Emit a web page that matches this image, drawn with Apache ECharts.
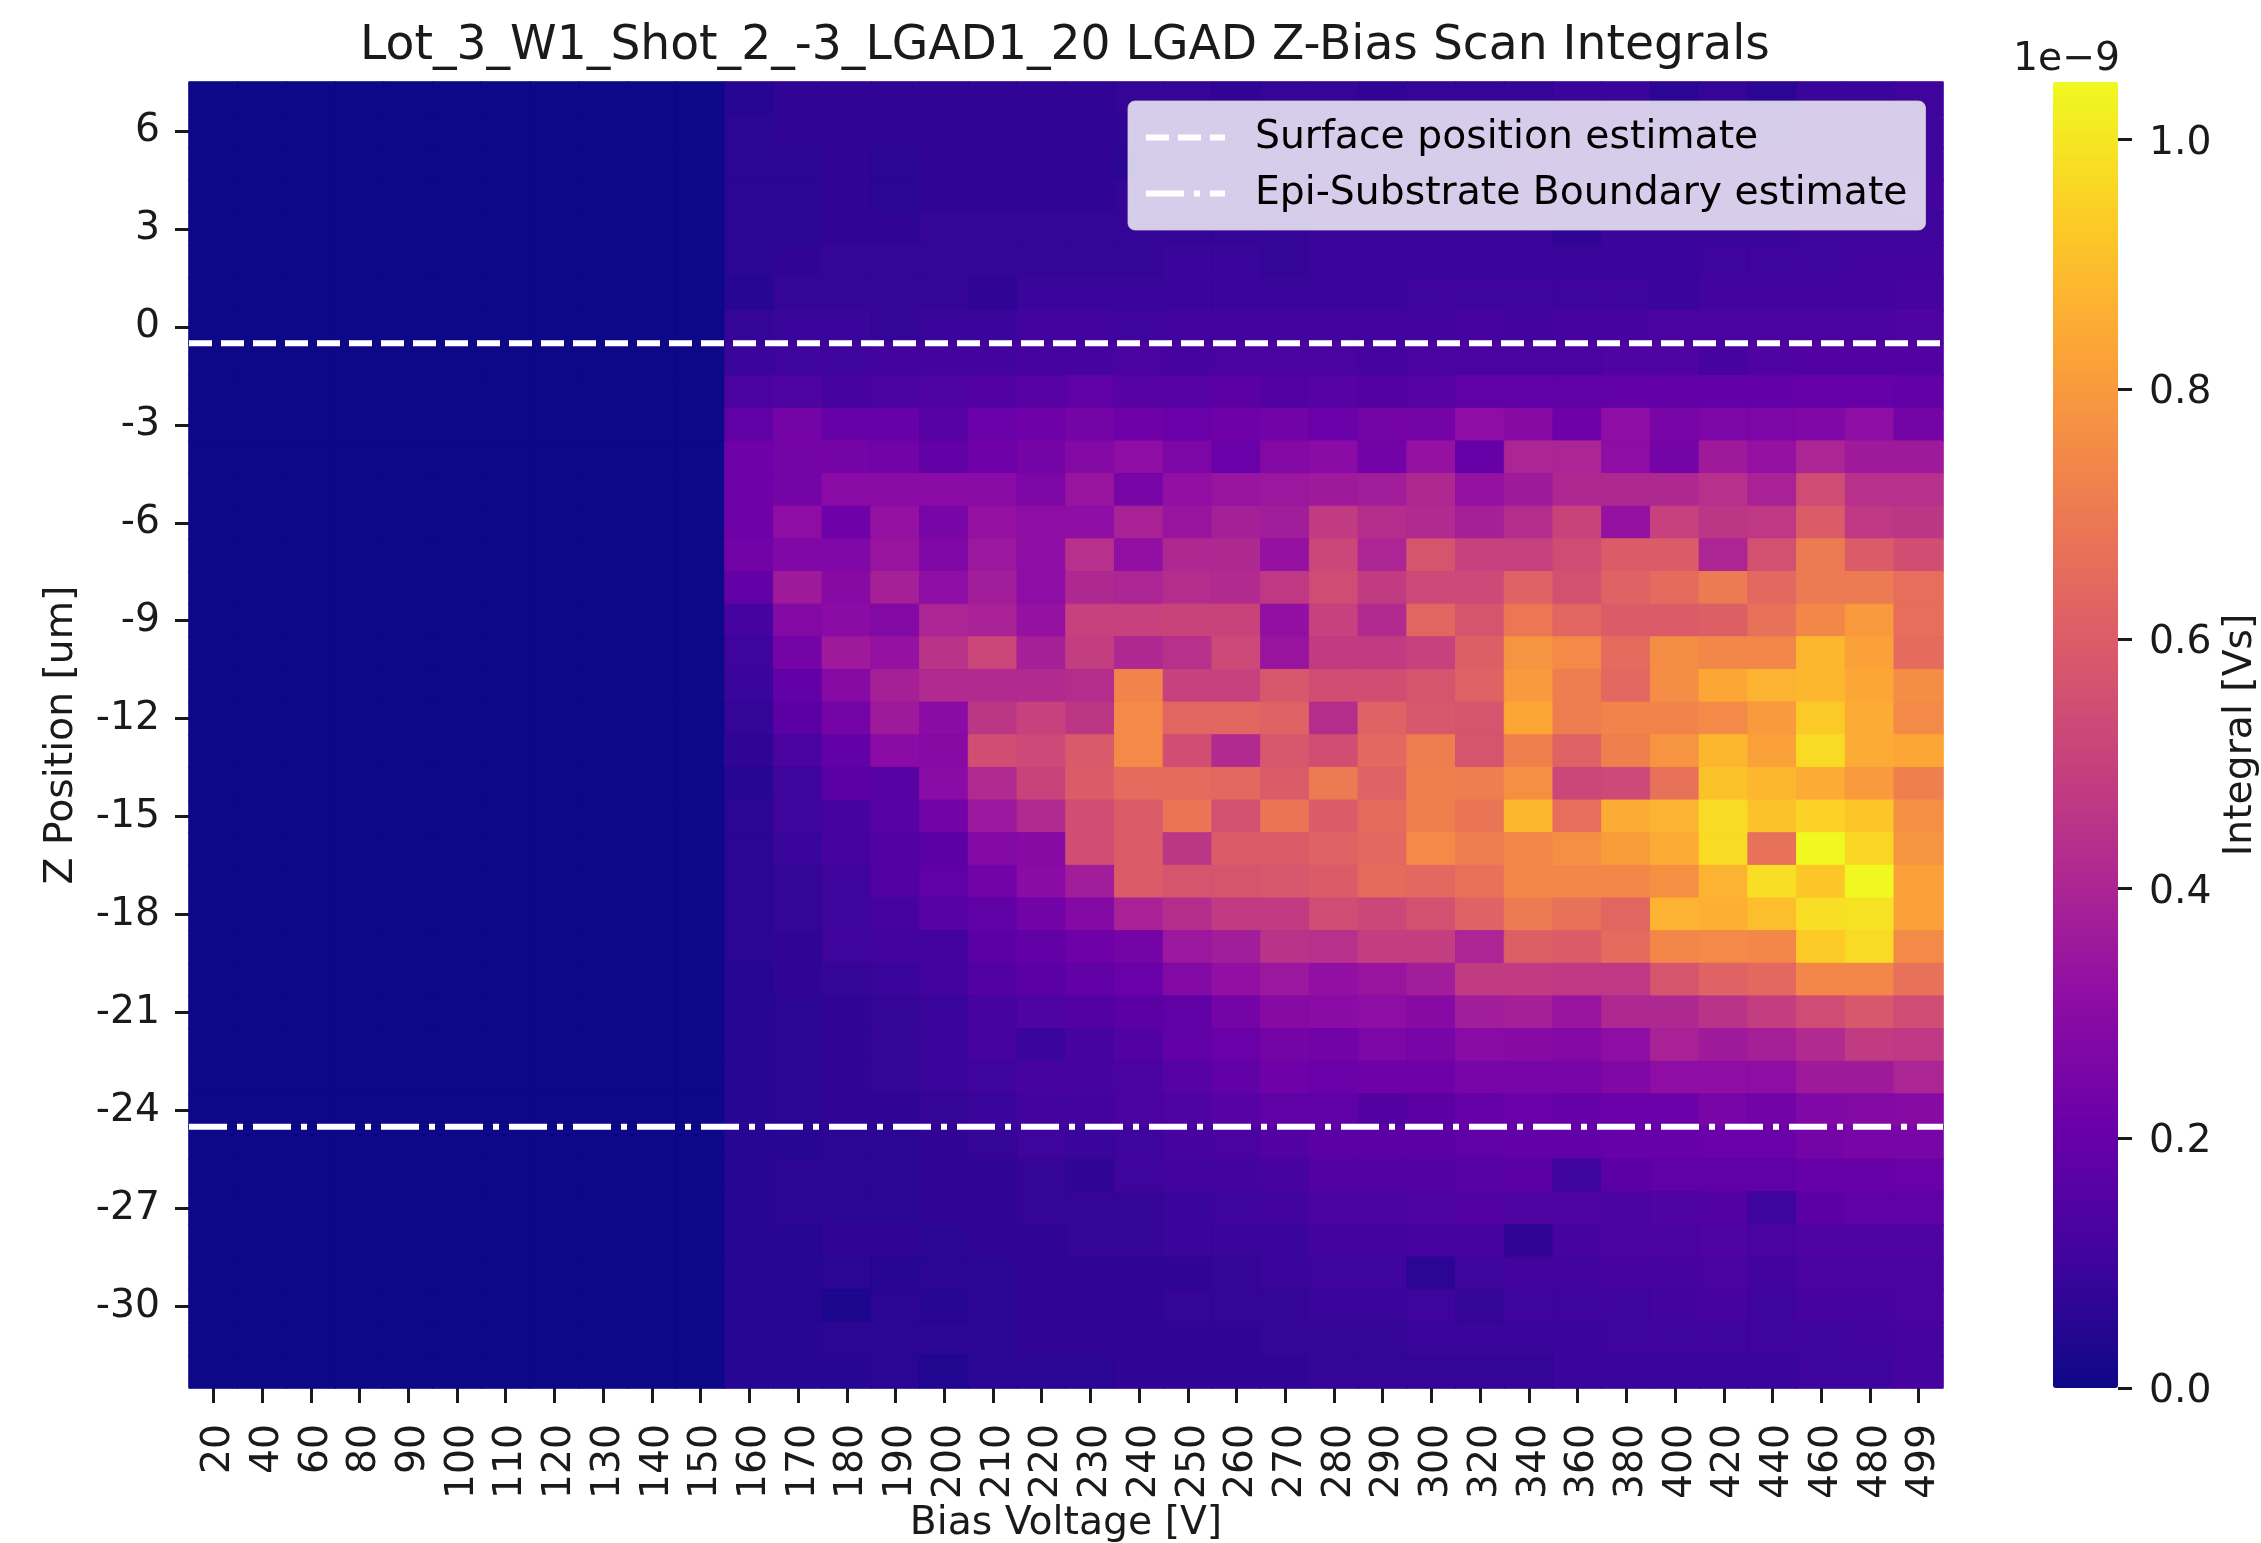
<!DOCTYPE html>
<html>
<head>
<meta charset="utf-8">
<style>html,body{margin:0;padding:0;background:#fff}#c{width:2261px;height:1543px}</style>
<script src="https://cdn.jsdelivr.net/npm/echarts@6/dist/echarts.min.js"></script>
</head>
<body>
<div id="c"></div>
<script>
const biasVoltages = [20,40,60,80,90,100,110,120,130,140,150,160,170,180,190,200,210,220,230,240,250,260,270,280,290,300,320,340,360,380,400,420,440,460,480,499];
const zPositions = [7,6,5,4,3,2,1,0,-1,-2,-3,-4,-5,-6,-7,-8,-9,-10,-11,-12,-13,-14,-15,-16,-17,-18,-19,-20,-21,-22,-23,-24,-25,-26,-27,-28,-29,-30,-31,-32];
const zTickEvery = 3;
const colorbarTicks = [0,0.2,0.4,0.6,0.8,1.0];
const colorMax = 1.046;
const plasma = ['#0d0887','#41049d','#6a00a8','#8f0da4','#b12a90','#cc4778','#e16462','#f1844b','#fca636','#fcce25','#f0f921'];
const surfaceLine = [[0,-0.5],[1,-0.5]];
const epiLine = [[0,-24.5],[1,-24.5]];
// Integral in units of 1e-9 Vs; one row per Z position, one column per bias voltage
const integrals = [
[0,0,0,0,0,0,0,0,0,0,0,.05,.07,.07,.07,.07,.07,.07,.07,.08,.08,.07,.08,.08,.07,.08,.08,.08,.09,.09,.06,.08,.06,.09,.09,.10],
[0,0,0,0,0,0,0,0,0,0,0,.06,.07,.07,.07,.07,.07,.07,.07,.07,.08,.08,.08,.08,.08,.08,.09,.08,.09,.09,.08,.09,.08,.09,.09,.10],
[0,0,0,0,0,0,0,0,0,0,0,.06,.06,.07,.06,.07,.07,.07,.07,.06,.08,.08,.08,.08,.08,.08,.08,.09,.09,.08,.08,.09,.09,.09,.09,.10],
[0,0,0,0,0,0,0,0,0,0,0,.06,.06,.07,.06,.07,.07,.07,.07,.08,.08,.08,.08,.09,.09,.08,.09,.09,.09,.09,.09,.09,.09,.09,.09,.11],
[0,0,0,0,0,0,0,0,0,0,0,.06,.06,.07,.07,.08,.08,.08,.08,.08,.08,.08,.08,.09,.09,.09,.09,.09,.07,.09,.09,.09,.09,.10,.10,.10],
[0,0,0,0,0,0,0,0,0,0,0,.06,.07,.08,.08,.08,.08,.08,.08,.08,.09,.09,.08,.09,.09,.09,.09,.09,.09,.09,.09,.10,.10,.10,.11,.11],
[0,0,0,0,0,0,0,0,0,0,0,.05,.08,.08,.08,.08,.07,.09,.09,.09,.09,.09,.09,.09,.09,.10,.10,.10,.10,.10,.09,.11,.11,.11,.11,.12],
[0,0,0,0,0,0,0,0,0,0,0,.08,.09,.09,.08,.09,.09,.11,.11,.10,.11,.11,.11,.11,.11,.11,.12,.11,.12,.12,.13,.13,.13,.13,.13,.14],
[0,0,0,0,0,0,0,0,0,0,0,.09,.10,.10,.11,.11,.11,.12,.12,.13,.12,.13,.13,.13,.12,.13,.13,.13,.13,.14,.14,.12,.14,.15,.15,.15],
[0,0,0,0,0,0,0,0,0,0,0,.13,.14,.12,.13,.14,.15,.16,.18,.16,.16,.17,.15,.16,.15,.16,.18,.18,.18,.19,.19,.19,.19,.20,.20,.19],
[0,0,0,0,0,0,0,0,0,0,0,.18,.24,.20,.20,.16,.21,.22,.24,.22,.21,.22,.23,.21,.24,.24,.31,.29,.22,.31,.25,.26,.26,.27,.31,.24],
[0,0,0,0,0,0,0,0,0,0,0,.22,.24,.24,.23,.19,.22,.24,.28,.31,.26,.21,.28,.30,.23,.33,.20,.40,.40,.31,.24,.36,.33,.40,.36,.36],
[0,0,0,0,0,0,0,0,0,0,0,.22,.24,.30,.30,.30,.30,.26,.34,.25,.32,.34,.35,.36,.37,.41,.33,.36,.41,.41,.41,.44,.39,.54,.44,.44],
[0,0,0,0,0,0,0,0,0,0,0,.22,.31,.22,.33,.25,.33,.31,.31,.39,.34,.38,.37,.48,.43,.42,.38,.43,.51,.33,.50,.46,.47,.60,.47,.46],
[0,0,0,0,0,0,0,0,0,0,0,.23,.27,.27,.34,.27,.35,.31,.44,.32,.41,.41,.33,.52,.40,.57,.50,.50,.54,.60,.60,.40,.56,.70,.60,.55],
[0,0,0,0,0,0,0,0,0,0,0,.19,.36,.29,.38,.31,.37,.31,.41,.40,.43,.42,.47,.54,.48,.53,.53,.62,.56,.62,.65,.70,.64,.70,.70,.66],
[0,0,0,0,0,0,0,0,0,0,0,.12,.28,.30,.28,.40,.39,.33,.50,.50,.51,.51,.32,.50,.42,.63,.57,.69,.63,.60,.60,.61,.67,.74,.80,.66],
[0,0,0,0,0,0,0,0,0,0,0,.10,.24,.36,.33,.45,.52,.38,.49,.41,.44,.53,.34,.48,.48,.50,.61,.78,.75,.65,.76,.74,.74,.88,.82,.65],
[0,0,0,0,0,0,0,0,0,0,0,.09,.19,.29,.38,.42,.42,.42,.43,.73,.50,.50,.58,.55,.55,.57,.62,.80,.71,.64,.76,.84,.87,.88,.84,.76],
[0,0,0,0,0,0,0,0,0,0,0,.08,.17,.24,.36,.30,.46,.50,.46,.75,.63,.63,.62,.43,.62,.58,.57,.84,.71,.73,.73,.75,.80,.93,.85,.75],
[0,0,0,0,0,0,0,0,0,0,0,.07,.13,.19,.30,.29,.55,.53,.59,.75,.55,.42,.58,.55,.64,.71,.57,.72,.62,.72,.78,.88,.82,.97,.85,.84],
[0,0,0,0,0,0,0,0,0,0,0,.05,.10,.17,.16,.30,.42,.51,.60,.65,.65,.64,.60,.70,.62,.72,.71,.77,.52,.53,.67,.91,.88,.85,.80,.72],
[0,0,0,0,0,0,0,0,0,0,0,.06,.10,.12,.16,.23,.35,.42,.55,.60,.68,.56,.68,.60,.65,.72,.68,.88,.66,.85,.87,.97,.91,.95,.92,.77],
[0,0,0,0,0,0,0,0,0,0,0,.06,.09,.12,.15,.17,.28,.29,.55,.60,.46,.60,.60,.62,.64,.75,.71,.74,.77,.81,.85,.97,.67,1.04,.96,.78],
[0,0,0,0,0,0,0,0,0,0,0,.06,.08,.10,.15,.18,.23,.30,.37,.60,.57,.57,.58,.60,.65,.64,.67,.74,.74,.74,.77,.87,.98,.92,1.04,.82],
[0,0,0,0,0,0,0,0,0,0,0,.06,.08,.10,.12,.16,.18,.23,.28,.39,.43,.48,.48,.54,.52,.56,.62,.70,.67,.63,.87,.86,.90,.98,.99,.82],
[0,0,0,0,0,0,0,0,0,0,0,.06,.07,.10,.11,.11,.17,.19,.22,.24,.35,.37,.45,.44,.49,.49,.40,.61,.60,.65,.74,.75,.74,.93,.97,.75],
[0,0,0,0,0,0,0,0,0,0,0,.05,.07,.08,.09,.11,.15,.17,.19,.21,.28,.32,.35,.32,.34,.37,.48,.48,.47,.47,.57,.62,.64,.74,.74,.67],
[0,0,0,0,0,0,0,0,0,0,0,.05,.06,.07,.08,.09,.12,.14,.15,.17,.18,.24,.29,.30,.31,.29,.37,.38,.34,.41,.41,.45,.49,.54,.58,.54],
[0,0,0,0,0,0,0,0,0,0,0,.05,.06,.07,.08,.09,.12,.09,.12,.15,.19,.21,.24,.23,.26,.25,.30,.29,.28,.31,.39,.36,.38,.42,.48,.47],
[0,0,0,0,0,0,0,0,0,0,0,.05,.06,.07,.08,.09,.10,.12,.12,.13,.16,.19,.22,.21,.22,.22,.25,.25,.25,.27,.31,.31,.31,.36,.36,.40],
[0,0,0,0,0,0,0,0,0,0,0,.05,.06,.07,.07,.08,.09,.11,.11,.13,.14,.16,.18,.18,.15,.17,.20,.21,.20,.21,.21,.25,.23,.27,.28,.29],
[0,0,0,0,0,0,0,0,0,0,0,.05,.05,.06,.06,.07,.08,.10,.09,.10,.12,.13,.15,.17,.17,.17,.18,.19,.19,.20,.20,.21,.21,.24,.25,.25],
[0,0,0,0,0,0,0,0,0,0,0,.05,.06,.06,.06,.07,.07,.08,.07,.10,.11,.11,.12,.15,.15,.15,.16,.17,.10,.17,.18,.18,.18,.20,.20,.21],
[0,0,0,0,0,0,0,0,0,0,0,.05,.06,.06,.06,.07,.07,.08,.08,.08,.09,.10,.11,.13,.13,.14,.15,.14,.14,.13,.14,.15,.10,.17,.18,.18],
[0,0,0,0,0,0,0,0,0,0,0,.05,.05,.07,.07,.06,.07,.07,.08,.08,.09,.09,.09,.11,.11,.12,.12,.07,.12,.13,.13,.14,.13,.14,.14,.14],
[0,0,0,0,0,0,0,0,0,0,0,.05,.05,.06,.05,.06,.06,.07,.07,.07,.07,.08,.09,.10,.10,.06,.10,.11,.11,.12,.12,.13,.11,.13,.13,.13],
[0,0,0,0,0,0,0,0,0,0,0,.05,.05,.03,.06,.05,.06,.07,.07,.07,.08,.08,.08,.09,.09,.10,.08,.10,.10,.10,.11,.12,.10,.12,.12,.13],
[0,0,0,0,0,0,0,0,0,0,0,.05,.05,.06,.06,.06,.06,.07,.07,.07,.07,.07,.08,.08,.08,.09,.09,.09,.09,.10,.10,.10,.10,.10,.11,.12],
[0,0,0,0,0,0,0,0,0,0,0,.05,.05,.05,.06,.04,.06,.06,.06,.07,.07,.07,.07,.08,.08,.08,.08,.08,.09,.09,.09,.09,.09,.10,.10,.12]
];

const FONT = '"DejaVu Sans"';
const INK = '#1a1a1a';
const SIZE = 39.3;
const cells = [];
integrals.forEach((row, r) => row.forEach((v, c) => cells.push({
  value: [c, r, v],
  itemStyle: {borderWidth: 1, borderColor: echarts.color.lerp(v / colorMax, plasma)}
})));
const onZTick = (i) => zPositions[i] % zTickEvery === 0;
const surfaceName = 'Surface position estimate';
const epiName = 'Epi-Substrate Boundary estimate';
const surfaceDash = [23, 9];
const epiDash = [38, 10, 6, 10];

const chart = echarts.init(document.getElementById('c'), null, {renderer: 'canvas'});
chart.setOption({
  animation: false,
  backgroundColor: '#fff',
  textStyle: {fontFamily: FONT},
  title: [
    {text: 'Lot_3_W1_Shot_2_-3_LGAD1_20 LGAD Z-Bias Scan Integrals', left: 1065, top: 23, textAlign: 'center', padding: 0,
     textStyle: {fontFamily: FONT, fontSize: 47.2, fontWeight: 'normal', color: INK}},
    {text: '1e\u22129', left: 2013, top: 40, padding: 0,
     textStyle: {fontFamily: FONT, fontSize: SIZE, fontWeight: 'normal', color: INK}}
  ],
  grid: [
    {left: 189, top: 82, width: 1754, height: 1306, containLabel: false, outerBoundsMode: 'none'},
    {left: 2053, top: 82, width: 65, height: 1306, containLabel: false, outerBoundsMode: 'none'}
  ],
  xAxis: [
    {type: 'category', gridIndex: 0, data: biasVoltages.map(String), position: 'bottom',
     name: 'Bias Voltage [V]', nameLocation: 'middle', nameGap: 116, nameMoveOverlap: false,
     nameTextStyle: {fontFamily: FONT, fontSize: SIZE, color: INK},
     axisLine: {show: false, onZero: false},
     axisTick: {show: true, alignWithLabel: true, interval: 0, length: 15, lineStyle: {color: INK, width: 3}},
     axisLabel: {interval: 0, rotate: 90, margin: 36, verticalAlign: 'top', lineHeight: 11, fontFamily: FONT, fontSize: SIZE, color: INK},
     splitLine: {show: false}},
    {type: 'value', gridIndex: 1, show: false, min: 0, max: 1, axisLine: {onZero: false}},
    {type: 'value', gridIndex: 0, show: false, min: 0, max: 1, axisLine: {onZero: false}}
  ],
  yAxis: [
    {type: 'category', gridIndex: 0, data: zPositions.map(String), inverse: true,
     name: 'Z Position [um]', nameLocation: 'middle', nameGap: 108, nameRotate: 90, nameMoveOverlap: false,
     nameTextStyle: {fontFamily: FONT, fontSize: SIZE, color: INK},
     axisLine: {show: false, onZero: false},
     axisTick: {show: true, alignWithLabel: true, length: 14, lineStyle: {color: INK, width: 3}, interval: onZTick},
     axisLabel: {margin: 29, fontFamily: FONT, fontSize: SIZE, color: INK, interval: onZTick},
     splitLine: {show: false}},
    {type: 'value', gridIndex: 1, position: 'right', min: 0, max: colorMax,
     name: 'Integral [Vs]', nameLocation: 'middle', nameGap: 103, nameRotate: 90, nameMoveOverlap: false,
     nameTextStyle: {fontFamily: FONT, fontSize: SIZE, color: INK},
     axisLine: {show: false, onZero: false},
     axisTick: {show: true, length: 14, lineStyle: {color: INK, width: 3}, customValues: colorbarTicks},
     axisLabel: {margin: 31, verticalAlign: 'top', lineHeight: 8, fontFamily: FONT, fontSize: SIZE, color: INK, customValues: colorbarTicks,
       formatter: (v) => v.toFixed(1)},
     splitLine: {show: false}},
    {type: 'value', gridIndex: 0, show: false, min: -32.5, max: 7.5, axisLine: {onZero: false}}
  ],
  visualMap: {
    type: 'continuous', seriesIndex: 0, min: 0, max: colorMax, calculable: false, hoverLink: false,
    inRange: {color: plasma}, orient: 'vertical', left: 2053, top: 82, padding: 0,
    itemWidth: 65, itemHeight: 1306, text: null, showLabel: false,
    handleSize: 0, handleStyle: {opacity: 0}, indicatorSize: 0, indicatorStyle: {opacity: 0}
  },
  legend: {
    data: [
      {name: surfaceName, itemStyle: {opacity: 0}, lineStyle: {color: '#fff', width: 6, type: surfaceDash, cap: 'butt'}},
      {name: epiName, itemStyle: {opacity: 0}, lineStyle: {color: '#fff', width: 6, type: epiDash, cap: 'butt'}}
    ],
    orient: 'vertical', left: 1128, top: 101, align: 'left',
    padding: [17, 18, 17, 15], itemWidth: 79, itemHeight: 39, itemGap: 17,
    backgroundColor: 'rgba(255,255,255,0.8)', borderColor: 'rgba(204,204,204,0.8)', borderWidth: 1, borderRadius: 7,
    selectedMode: false,
    textStyle: {fontFamily: FONT, fontSize: SIZE, color: '#000', padding: [0, 0, 0, 25]}
  },
  series: [
    {type: 'heatmap', xAxisIndex: 0, yAxisIndex: 0, data: cells, progressive: 0, silent: true, emphasis: {disabled: true}},
    {type: 'line', name: surfaceName, xAxisIndex: 2, yAxisIndex: 2, data: surfaceLine,
     symbol: 'none', silent: true, z: 3, lineStyle: {color: '#fff', width: 6, type: surfaceDash, cap: 'butt'}},
    {type: 'line', name: epiName, xAxisIndex: 2, yAxisIndex: 2, data: epiLine,
     symbol: 'none', silent: true, z: 3, lineStyle: {color: '#fff', width: 6, type: epiDash, cap: 'butt'}}
  ]
});
</script>
</body>
</html>
